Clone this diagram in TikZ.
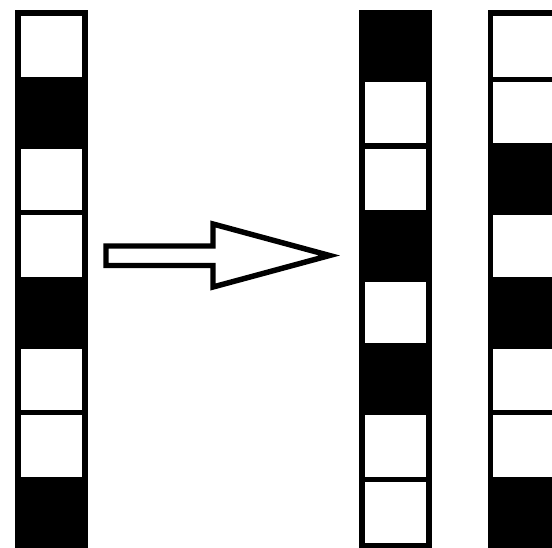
\documentclass[tikz,border=0pt]{standalone}
\begin{document}
\begin{tikzpicture}[x=0.75pt,y=-0.75pt,line width=4.1pt,
  wcell/.style={draw=black,fill=white},
  bcell/.style={draw=black,fill=black},
  bigarrow/.style={draw=black,fill=white,line join=miter}]
\useasboundingbox (0,0) rectangle (552,548);
\def\pitch{66.65}
\def\top{12.8}
% left column
\foreach \c [count=\i from 0] in {w,b,w,w,b,w,w,b}{
  \draw[\c cell] (18,{\top+\i*\pitch}) rectangle (85,{\top+(\i+1)*\pitch});
}
% middle column
\foreach \c [count=\i from 0] in {b,w,w,b,w,b,w,w}{
  \draw[\c cell] (362,{\top+\i*\pitch}) rectangle (429,{\top+(\i+1)*\pitch});
}
% right column
\foreach \c [count=\i from 0] in {w,w,b,w,b,w,w,b}{
  \draw[\c cell] (490.5,{\top+\i*\pitch}) rectangle (557.5,{\top+(\i+1)*\pitch});
}
% arrow
\draw[bigarrow] (106,246) -- (213,246) -- (213,224) -- (329.5,255.5) -- (213,287) -- (213,265.5) -- (106,265.5) -- cycle;
\end{tikzpicture}
\end{document}
